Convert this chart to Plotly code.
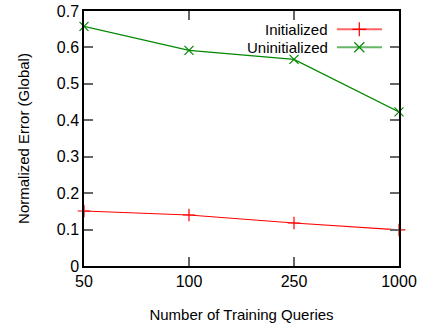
import plotly.graph_objects as go

queries = ["50", "100", "250", "1000"]
initialized = [0.151, 0.140, 0.118, 0.099]
uninitialized = [0.658, 0.592, 0.567, 0.423]
yticks = [0, 0.1, 0.2, 0.3, 0.4, 0.5, 0.6, 0.7]
series_names = ["Initialized", "Uninitialized"]
series_colors = ["#ff0000", "#008800"]
series_symbols = ["cross-thin", "x-thin"]

FONT = "Liberation Sans, Arial, sans-serif"
fig = go.Figure()
for name, vals, col, sym in zip(series_names, [initialized, uninitialized], series_colors, series_symbols):
    fig.add_trace(go.Scatter(
        x=queries, y=vals, mode="lines+markers", name=name,
        line=dict(color=col, width=1.2),
        marker=dict(symbol=sym, size=9, line=dict(color=col, width=1.2)),
        cliponaxis=False, showlegend=False))

# legend emulation (text on left, sample on right, like gnuplot)
legend_y = [0.928, 0.858]
for i, (name, col, sym) in enumerate(zip(series_names, series_colors, series_symbols)):
    fig.add_trace(go.Scatter(
        x=[0.803, 0.946], y=[legend_y[i]] * 2, xaxis="x2", yaxis="y2",
        mode="lines", line=dict(color=col, width=2), opacity=0.6,
        showlegend=False, hoverinfo="skip"))
    fig.add_trace(go.Scatter(
        x=[0.874], y=[legend_y[i]], xaxis="x2", yaxis="y2",
        mode="markers", marker=dict(symbol=sym, size=10, line=dict(color=col, width=1.2)),
        showlegend=False, hoverinfo="skip"))
    fig.add_annotation(x=0.778, y=legend_y[i], xref="x2", yref="y2", text=name,
                       showarrow=False, xanchor="right", yanchor="middle", borderpad=0,
                       font=dict(family=FONT, size=15, color="#000"))

axis_common = dict(showline=True, linecolor="#000", linewidth=1.5, mirror="allticks",
                   ticks="inside", ticklen=9, tickcolor="#666", tickwidth=1.5,
                   showgrid=False, zeroline=False, automargin=False,
                   tickfont=dict(family=FONT, size=16, color="#000"))
fig.update_layout(
    width=421, height=323,
    margin=dict(l=84, r=22, t=11, b=57),
    paper_bgcolor="white", plot_bgcolor="white",
    xaxis=dict(type="category", range=[0, 3], **axis_common,
               title=dict(text="Number of Training Queries", font=dict(family=FONT, size=15, color="#000"), standoff=22)),
    yaxis=dict(range=[0, 0.7], tickvals=yticks, ticktext=[f"{v:g}" for v in yticks], **axis_common,
               title=dict(text="Normalized Error (Global)", font=dict(family=FONT, size=15, color="#000"), standoff=24)),
    xaxis2=dict(overlaying="x", range=[0, 1], visible=False, fixedrange=True),
    yaxis2=dict(overlaying="y", range=[0, 1], visible=False, fixedrange=True),
    showlegend=False,
)
fig.write_html("out.html")
